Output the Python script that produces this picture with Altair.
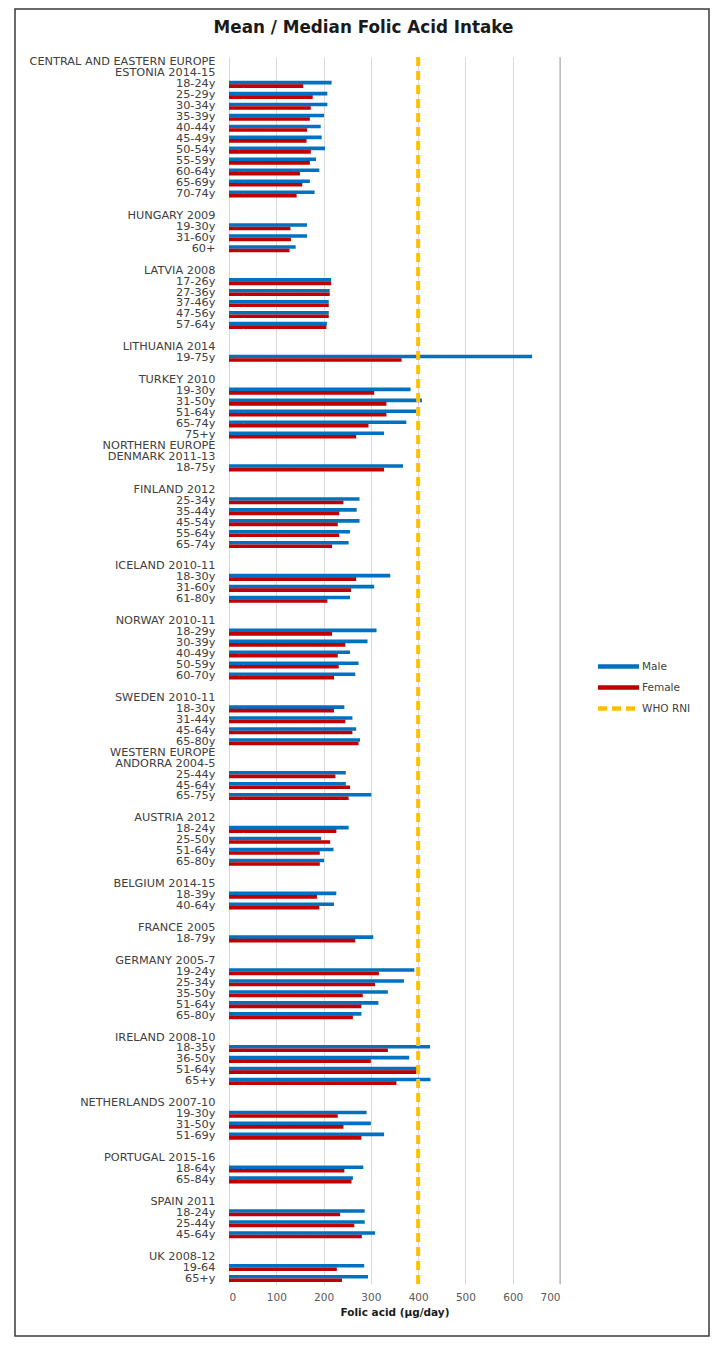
import altair as alt
import pandas as pd

row_labels = [
    "CENTRAL AND EASTERN EUROPE", "ESTONIA 2014-15",
    "18-24y", "25-29y", "30-34y", "35-39y", "40-44y", "45-49y", "50-54y", "55-59y", "60-64y", "65-69y", "70-74y",
    "",
    "HUNGARY 2009", "19-30y", "31-60y", "60+",
    "",
    "LATVIA 2008", "17-26y", "27-36y", "37-46y", "47-56y", "57-64y",
    "",
    "LITHUANIA 2014", "19-75y",
    "",
    "TURKEY 2010", "19-30y", "31-50y", "51-64y", "65-74y", "75+y",
    "NORTHERN EUROPE", "DENMARK 2011-13", "18-75y",
    "",
    "FINLAND 2012", "25-34y", "35-44y", "45-54y", "55-64y", "65-74y",
    "",
    "ICELAND 2010-11", "18-30y", "31-60y", "61-80y",
    "",
    "NORWAY 2010-11", "18-29y", "30-39y", "40-49y", "50-59y", "60-70y",
    "",
    "SWEDEN 2010-11", "18-30y", "31-44y", "45-64y", "65-80y",
    "WESTERN EUROPE", "ANDORRA 2004-5", "25-44y", "45-64y", "65-75y",
    "",
    "AUSTRIA 2012", "18-24y", "25-50y", "51-64y", "65-80y",
    "",
    "BELGIUM 2014-15", "18-39y", "40-64y",
    "",
    "FRANCE 2005", "18-79y",
    "",
    "GERMANY 2005-7", "19-24y", "25-34y", "35-50y", "51-64y", "65-80y",
    "",
    "IRELAND 2008-10", "18-35y", "36-50y", "51-64y", "65+y",
    "",
    "NETHERLANDS 2007-10", "19-30y", "31-50y", "51-69y",
    "",
    "PORTUGAL 2015-16", "18-64y", "65-84y",
    "",
    "SPAIN 2011", "18-24y", "25-44y", "45-64y",
    "",
    "UK 2008-12", "19-64", "65+y",
]

N = None
male = [
    N, N, 217, 208, 208, 201, 194, 196, 203, 184, 191, 171, 181,
    N,
    N, 165, 165, 141,
    N,
    N, 216, 213, 211, 211, 207,
    N,
    N, 641,
    N,
    N, 384, 408, 396, 375, 328,
    N, N, 368,
    N,
    N, 276, 270, 276, 256, 253,
    N,
    N, 341, 307, 256,
    N,
    N, 312, 293, 256, 274, 267,
    N,
    N, 244, 261, 269, 277,
    N, N, 247, 247, 301,
    N,
    N, 253, 195, 221, 201,
    N,
    N, 227, 222,
    N,
    N, 305,
    N,
    N, 392, 370, 336, 316, 280,
    N,
    N, 425, 381, 401, 426,
    N,
    N, 291, 300, 328,
    N,
    N, 284, 262,
    N,
    N, 287, 287, 309,
    N,
    N, 286, 294,
]

female = [
    N, N, 157, 177, 173, 171, 165, 164, 173, 171, 150, 155, 143,
    N,
    N, 130, 131, 128,
    N,
    N, 216, 213, 211, 211, 206,
    N,
    N, 365,
    N,
    N, 307, 333, 333, 295, 269,
    N, N, 328,
    N,
    N, 242, 233, 230, 233, 218,
    N,
    N, 269, 258, 208,
    N,
    N, 218, 246, 230, 232, 222,
    N,
    N, 222, 246, 261, 274,
    N, N, 225, 256, 253,
    N,
    N, 227, 214, 192, 192,
    N,
    N, 186, 191,
    N,
    N, 267,
    N,
    N, 317, 309, 283, 280, 262,
    N,
    N, 336, 300, 397, 354,
    N,
    N, 230, 242, 280,
    N,
    N, 244, 259,
    N,
    N, 235, 265, 281,
    N,
    N, 228, 239,
]

who_rni = 400
x_ticks = [0, 100, 200, 300, 400, 500, 600, 700]
series = ["Male", "Female", "WHO RNI"]
colors = ["#0070C0", "#C00000", "#FFC000"]

n_rows = len(row_labels)
recs = []
for i in range(n_rows):
    if i < len(male) and male[i] is not None:
        recs.append({"row": i, "series": "Male", "value": male[i]})
    if i < len(female) and female[i] is not None:
        recs.append({"row": i, "series": "Female", "value": female[i]})
bars_df = pd.DataFrame(recs)
who_df = pd.DataFrame({"series": ["WHO RNI"], "value": [who_rni]})
frame_df = pd.DataFrame({"k": [0]})

label_array = "[" + ",".join("'" + s + "'" for s in row_labels) + "]"

W = 331
H = 1227
FONT = "DejaVu Sans"

color_scale = alt.Scale(domain=series, range=colors)
dash_scale = alt.Scale(domain=series, range=[[1, 0], [1, 0], [9, 5]])

legend = alt.Legend(
    title=None, orient="none", legendX=382, legendY=602,
    symbolType="M-4.1,0H4.1", symbolSize=100, symbolStrokeWidth=4.5,
    labelFontSize=10.5, labelColor="#404040", labelFont=FONT,
    rowPadding=2, labelOffset=16, padding=0,
)

x_enc = alt.X(
    "value:Q",
    scale=alt.Scale(domain=[0, 700], nice=False),
    axis=alt.Axis(
        values=x_ticks, title="Folic acid (µg/day)", grid=True, gridColor="#d9d9d9",
        domain=False, ticks=False, labelPadding=8, labelFontSize=10.5, labelColor="#595959",
        labelFont=FONT, titleFont=FONT,
        titleFontSize=10.5, titleFontWeight="bold", titleColor="#1a1a1a", titlePadding=5,
    ),
)

y_enc = alt.Y(
    "row:O",
    scale=alt.Scale(domain=list(range(n_rows)), paddingInner=0.36, paddingOuter=0.18),
    axis=alt.Axis(
        title=None, labelExpr=label_array + "[datum.value]", ticks=False, domain=False,
        grid=False, labelPadding=14, labelFontSize=11.3, labelColor="#404040",
        labelFont=FONT, labelLimit=400,
    ),
)

bars = alt.Chart(bars_df).mark_rule(strokeWidth=3.6).encode(
    x=x_enc,
    x2=alt.datum(0),
    y=y_enc,
    yOffset=alt.YOffset("series:N", scale=alt.Scale(domain=["Male", "Female"], paddingInner=0, paddingOuter=0)),
    color=alt.Color("series:N", scale=color_scale, legend=legend),
    strokeDash=alt.StrokeDash("series:N", scale=dash_scale, legend=legend),
)

edge = alt.Chart(who_df).mark_rule(color="#a6a6a6", strokeWidth=1).encode(
    x=alt.datum(700)
)

who = alt.Chart(who_df).mark_rule(strokeWidth=4).encode(
    x="value:Q",
    color=alt.Color("series:N", scale=color_scale, legend=legend),
    strokeDash=alt.StrokeDash("series:N", scale=dash_scale, legend=legend),
)

frame = alt.Chart(frame_df).mark_rect(fill=None, stroke="#3a3a3a", strokeWidth=1.5).encode(
    x=alt.value(-214), x2=alt.value(480), y=alt.value(-48), y2=alt.value(1279)
)

chart = alt.layer(edge, bars, who, frame).properties(
    width=W, height=H,
    title=alt.TitleParams(
        "Mean / Median Folic Acid Intake", fontSize=16.8, fontWeight="bold",
        font=FONT, anchor="middle", dx=-31, offset=-29, color="#1a1a1a",
    ),
    autosize=alt.AutoSizeParams(type="none"),
    padding={"left": 221, "top": 49, "right": 151, "bottom": 55},
).configure(
    font=FONT,
).configure_view(
    stroke=None,
)

chart.save("out.html", embed_options={"renderer": "svg", "actions": False})
